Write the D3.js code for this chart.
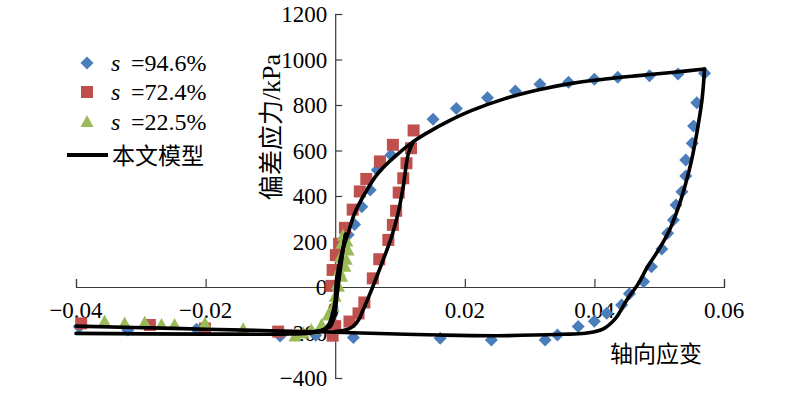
<!DOCTYPE html>
<html><head><meta charset="utf-8">
<script src="https://cdn.jsdelivr.net/npm/d3@7"></script>
<style>body{margin:0;background:#fff}svg{display:block}</style>
</head><body><svg id="c" width="800" height="393"></svg>
<script>
// ---- data ----
const strainTicks = [-0.04, -0.02, 0, 0.02, 0.04, 0.06];
const strainTickLabels = ["\u22120.04", "\u22120.02", "0", "0.02", "0.04", "0.06"];
const stressTicks = [-400, -200, 0, 200, 400, 600, 800, 1000, 1200];
const stressTickLabels = ["\u2212400", "\u2212200", "0", "200", "400", "600", "800", "1000", "1200"];
const seriesNames = ["=94.6%", "=72.4%", "=22.5%", "本文模型"];

// s=94.6% test points [strain, stress kPa]
const s946 = [[-0.0395,-175],[-0.032,-189],[-0.0214,-186],[-0.0085,-215],[-0.003,-212],
  [0.002,230],[0.003,275],[0.0041,353],[0.0054,426],[0.0065,514],[0.0086,580],[0.0151,737],[0.0187,785],
  [0.0235,832],[0.0278,862],[0.0316,891],[0.036,900],[0.04,913],[0.0436,922],[0.0485,929],[0.0529,936],[0.0570,940],
  [0.0558,810],[0.0553,708],[0.0551,632],[0.0541,558],[0.0541,488],[0.0535,419],[0.0526,360],[0.0522,294],
  [0.0513,236],[0.0504,167],[0.0488,89],[0.0476,23],[0.0454,-30],[0.0442,-79],[0.0419,-115],[0.0400,-150],
  [0.0375,-174],[0.0343,-211],[0.0324,-233],[0.0241,-233],[0.0162,-225],[0.0028,-222]];
// s=72.4%
const s724 = [[-0.0392,-160],[-0.0286,-167],[-0.0201,-182],[-0.0088,-196],[-0.0004,-214],[0.0,-172],
  [-0.0006,5],[-0.0004,75],[0.0001,140],[0.0006,190],[0.0015,260],[0.0027,340],[0.0038,420],[0.0048,475],
  [0.0069,552],[0.0089,625],[0.0121,688],
  [0.0117,610],[0.0110,544],[0.0105,478],[0.0098,415],[0.0094,335],[0.0089,273],[0.0082,207],[0.0068,122],
  [0.0058,38],[0.0045,-68],[0.0036,-116],[0.0022,-152]];
// s=22.5%
const s225 = [[-0.0356,-152],[-0.0325,-160],[-0.0294,-157],[-0.0268,-167],[-0.0248,-167],[-0.0201,-160],
  [-0.0142,-186],[-0.0062,-218],[-0.0049,-204],[-0.0037,-189],[-0.0021,-167],[-0.0011,-125],[-0.0003,-87],
  [0.0,-43],[0.0003,10],[0.0006,70],[0.0008,130],[0.001,190],[0.0012,225],
  [0.0018,200],[0.0020,160],[0.0017,120],[0.0015,89],[0.001,45],[0.0005,1]];

// model curves (each branch separately, so corners stay sharp)
const modelBigLoad = [[-0.04,-204],[-0.02,-207],[-0.008,-207],[-0.004,-203],[-0.002,-192],[-0.001,-165],[-0.0004,-116],
  [0,-57],[0.0002,31],[0.001,148],[0.002,236],[0.003,324],[0.0046,412],[0.0066,500],[0.0092,573],[0.0121,640],
  [0.0144,681],[0.0175,729],[0.0210,775],[0.0262,828],[0.0314,867],[0.0365,895],[0.0417,914],[0.0468,929],
  [0.0519,943],[0.0570,958]];
const modelBigUnload = [[0.0570,958],
  [0.0566,822],[0.0558,676],[0.0550,558],[0.0541,456],[0.0530,353],[0.0516,251],[0.0499,163],[0.0482,89],
  [0.0468,16],[0.0450,-57],[0.0432,-140],[0.0413,-185],[0.0386,-203],[0.035,-208],[0.025,-214],[0.016,-211],
  [0.004,-202],[-0.001,-198],[-0.01,-192],[-0.025,-182],[-0.04,-172]];
const modelRed = [[0.0121,640],[0.0113,588],[0.0105,441],[0.0097,324],[0.0087,221],[0.0072,104],
  [0.0056,-13],[0.0043,-101],[0.0036,-145],[0.0028,-172],[0.002,-185],[0,-196]];
const modelGreenLoad = [[-0.004,-200],[-0.0015,-185],[-0.0004,-140],[0.0001,-60],[0.0006,50],[0.0011,150],[0.0016,232]];
const modelGreenUnload = [[0.0016,232],[0.0013,180],[0.0008,80],[0.0003,-30],[-0.0001,-120],[-0.0008,-175],[-0.003,-195]];

// ---- drawing ----
const svg = d3.select("#c");
const x = d3.scaleLinear().domain([-0.04, 0.06]).range([76, 724]);
const y = d3.scaleLinear().domain([-400, 1200]).range([378, 14]);
const serif = "'Liberation Serif','Times New Roman',serif";
const cjk = "'Noto Sans CJK SC','Liberation Serif',serif";
const axisColor = "#3a3a3a";

// x axis (ticks upward)
const xAxis = svg.append("g").attr("transform", `translate(0,${y(0)})`)
  .call(d3.axisTop(x).tickValues(strainTicks).tickSize(8).tickFormat(""));
xAxis.selectAll("path,line").attr("stroke", axisColor).attr("stroke-width", 1.2);
svg.append("g").selectAll("text").data(strainTicks).join("text")
  .attr("x", d => x(d) - (d === 0 ? 2 : 0)).attr("y", y(0) + 31).attr("text-anchor", "middle")
  .attr("font-family", serif).attr("font-size", 23).attr("fill", "#000")
  .text((d, i) => strainTickLabels[i]);

// y axis (ticks to right)
const yAxis = svg.append("g").attr("transform", `translate(${x(0)},0)`)
  .call(d3.axisRight(y).tickValues(stressTicks).tickSize(7).tickSizeOuter(7).tickFormat(""));
yAxis.selectAll("path,line").attr("stroke", axisColor).attr("stroke-width", 1.2);
svg.append("g").selectAll("text").data(stressTicks).join("text")
  .attr("x", x(0) - 8).attr("y", d => y(d) + 8).attr("text-anchor", "end")
  .attr("font-family", serif).attr("font-size", 23).attr("fill", "#000")
  .text((d, i) => stressTickLabels[i]);

// axis titles
const yt = svg.append("text").attr("transform", `translate(280,127) rotate(-90)`).attr("text-anchor", "middle")
  .attr("font-size", 25).attr("fill", "#000");
yt.append("tspan").attr("font-family", cjk).text("偏差应力");
yt.append("tspan").attr("font-family", serif).attr("font-size", 26).text("/kPa");
svg.append("text").attr("x", 656).attr("y", 362).attr("text-anchor", "middle")
  .attr("font-family", cjk).attr("font-size", 23).attr("fill", "#000").text("轴向应变");

// markers
const diamond = "M0,-6.5L6.5,0L0,6.5L-6.5,0Z";
const square = "M-6,-6H6V6H-6Z";
const tri = "M0,-7L6.5,5H-6.5Z";
const colors = ["#4a7ebb", "#c0504d", "#9bbb59"];
svg.append("g").selectAll("path").data(s946).join("path")
  .attr("d", diamond).attr("fill", colors[0]).attr("transform", d => `translate(${x(d[0])},${y(d[1])})`);
svg.append("g").selectAll("path").data(s724).join("path")
  .attr("d", square).attr("fill", colors[1]).attr("transform", d => `translate(${x(d[0])},${y(d[1])})`);
svg.append("g").selectAll("path").data(s225).join("path")
  .attr("d", tri).attr("fill", colors[2]).attr("transform", d => `translate(${x(d[0])},${y(d[1])})`);

// model lines
const line = d3.line().x(d => x(d[0])).y(d => y(d[1])).curve(d3.curveCatmullRom.alpha(0.5));
[modelBigLoad, modelBigUnload, modelRed, modelGreenLoad, modelGreenUnload].forEach(m => {
  svg.append("path").attr("d", line(m)).attr("fill", "none").attr("stroke", "#000")
    .attr("stroke-width", 3.6).attr("stroke-linejoin", "round").attr("stroke-linecap", "round");
});

// legend
const lg = svg.append("g");
const rows = [63, 92, 122, 155];
[diamond, square, tri].forEach((p, i) => {
  lg.append("path").attr("d", p).attr("fill", colors[i]).attr("transform", `translate(87,${rows[i]})`);
  const t = lg.append("text").attr("x", 111).attr("y", rows[i] + 8)
    .attr("font-family", serif).attr("font-size", 24).attr("fill", "#000");
  t.append("tspan").attr("font-style", "italic").text("s");
  t.append("tspan").attr("x", 131).text(seriesNames[i]);
});
lg.append("line").attr("x1", 67).attr("x2", 108).attr("y1", rows[3]).attr("y2", rows[3])
  .attr("stroke", "#000").attr("stroke-width", 4);
lg.append("text").attr("x", 112).attr("y", rows[3] + 9).attr("font-family", cjk).attr("font-size", 23)
  .attr("fill", "#000").text(seriesNames[3]);
</script></body></html>
